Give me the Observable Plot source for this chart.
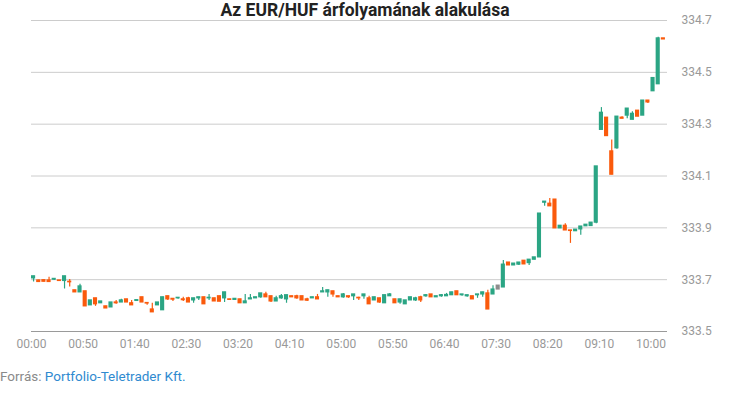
<!DOCTYPE html>
<html><head><meta charset="utf-8">
<script src="https://cdn.jsdelivr.net/npm/d3@7"></script>
<script src="https://cdn.jsdelivr.net/npm/@observablehq/plot@0.6"></script>
<style>
body{margin:0;background:#fff;font-family:Roboto,sans-serif;}
#wrap{position:relative;width:730px;height:410px;overflow:hidden;}
#chart{position:absolute;left:0;top:0;}
#title{position:absolute;top:0;left:0;width:730px;text-align:center;font-weight:bold;font-size:17.5px;line-height:20px;color:#222;}
#caption{position:absolute;left:0;top:368px;font-size:13.5px;line-height:17px;color:#8a8a8a;}
#caption .src{color:#2f8ad0;}
</style></head><body>
<div id="wrap"><div id="chart"></div><div id="title">Az EUR/HUF árfolyamának alakulása</div><div id="caption">Forrás: <span class="src">Portfolio-Teletrader Kft.</span></div></div>
<script>
// 5-minute candles, EUR/HUF
const times = [
"00:00","00:05","00:10","00:15","00:20","00:25","00:30","00:35","00:40","00:45","00:50","00:55",
"01:00","01:05","01:10","01:15","01:20","01:25","01:30","01:35","01:40","01:45","01:50","01:55",
"02:00","02:05","02:10","02:15","02:20","02:25","02:30","02:35","02:40","02:45","02:50","02:55",
"03:00","03:05","03:10","03:15","03:20","03:25","03:30","03:35","03:40","03:45","03:50","03:55",
"04:00","04:05","04:10","04:15","04:20","04:25","04:30","04:35","04:40","04:45","04:50","04:55",
"05:00","05:05","05:10","05:15","05:20","05:25","05:30","05:35","05:40","05:45","05:50","05:55",
"06:00","06:05","06:10","06:15","06:20","06:25","06:30","06:35","06:40","06:45","06:50","06:55",
"07:00","07:05","07:10","07:15","07:20","07:25","07:30","07:35","07:40","07:45","07:50","07:55",
"08:00","08:05","08:10","08:15","08:20","08:25","08:30","08:35","08:40","08:45","08:50","08:55",
"09:00","09:05","09:10","09:15","09:20","09:25","09:30","09:35","09:40","09:45","09:50","09:55",
"10:00","10:05","10:10"];
const open = [
333.705,333.697,333.698,333.697,333.700,333.697,333.695,333.692,333.659,333.651,333.655,333.601,
333.628,333.609,333.597,333.593,333.612,333.612,333.624,333.609,333.618,333.632,333.610,333.585,
333.601,333.582,333.636,333.626,333.628,333.624,333.628,333.620,333.628,333.632,333.628,333.628,
333.636,333.628,333.624,333.622,333.624,333.609,333.624,333.628,333.632,333.643,333.636,333.616,
333.628,333.624,333.636,333.636,333.636,333.624,333.628,333.632,333.651,333.651,333.655,333.636,
333.632,333.636,333.636,333.630,333.636,333.628,333.620,333.628,333.609,333.636,333.624,333.612,
333.605,333.620,333.620,333.632,333.636,333.643,333.632,333.636,333.636,333.640,333.655,333.640,
333.636,333.636,333.640,333.643,333.647,333.643,333.677,333.670,333.766,333.755,333.758,333.773,
333.764,333.777,333.786,333.997,333.993,334.009,333.898,333.908,333.890,333.887,333.894,333.906,
333.907,333.920,334.278,334.325,334.195,334.207,334.325,334.333,334.317,334.352,334.333,334.391,
334.427,334.454,334.631];
const high = [
333.713,333.698,333.700,333.709,333.703,333.697,333.713,333.701,333.659,333.682,333.655,333.620,
333.628,333.616,333.597,333.612,333.620,333.624,333.624,333.620,333.621,333.632,333.612,333.609,
333.612,333.632,333.636,333.626,333.630,333.632,333.632,333.628,333.632,333.632,333.643,333.628,
333.636,333.651,333.624,333.626,333.624,333.643,333.643,333.632,333.647,333.651,333.636,333.636,
333.643,333.640,333.636,333.640,333.636,333.628,333.632,333.643,333.670,333.659,333.655,333.636,
333.647,333.636,333.643,333.632,333.643,333.636,333.632,333.628,333.640,333.647,333.624,333.624,
333.620,333.632,333.632,333.636,333.643,333.643,333.636,333.643,333.647,333.651,333.655,333.643,
333.640,333.636,333.643,333.651,333.659,333.677,333.677,333.774,333.766,333.762,333.766,333.773,
333.777,333.786,333.955,334.001,334.013,334.009,333.908,333.916,333.890,333.893,333.905,333.912,
333.920,334.137,334.364,334.325,334.239,334.329,334.329,334.360,334.348,334.352,334.391,334.391,
334.478,334.635,334.631];
const low = [
333.691,333.690,333.691,333.691,333.697,333.695,333.664,333.672,333.651,333.651,333.597,333.601,
333.597,333.609,333.589,333.593,333.605,333.612,333.612,333.601,333.618,333.612,333.601,333.574,
333.601,333.582,333.620,333.616,333.624,333.616,333.612,333.609,333.620,333.605,333.620,333.616,
333.615,333.612,333.622,333.622,333.609,333.609,333.624,333.628,333.628,333.632,333.612,333.616,
333.624,333.609,333.632,333.624,333.620,333.616,333.628,333.624,333.651,333.632,333.632,333.632,
333.628,333.628,333.620,333.620,333.624,333.605,333.620,333.609,333.609,333.636,333.609,333.605,
333.605,333.620,333.616,333.612,333.632,333.632,333.632,333.632,333.636,333.640,333.640,333.636,
333.632,333.624,333.628,333.632,333.585,333.643,333.662,333.670,333.755,333.755,333.755,333.759,
333.755,333.777,333.786,333.983,333.983,333.898,333.898,333.890,333.840,333.887,333.871,333.906,
333.907,333.916,334.278,334.254,334.105,334.203,334.321,334.321,334.317,334.329,334.333,334.380,
334.427,334.454,334.627];
const close = [
333.713,333.691,333.692,333.691,333.703,333.695,333.713,333.690,333.651,333.674,333.597,333.620,
333.605,333.616,333.589,333.612,333.609,333.620,333.612,333.601,333.621,333.612,333.608,333.574,
333.612,333.632,333.624,333.623,333.630,333.621,333.612,333.628,333.632,333.605,333.630,333.616,
333.615,333.651,333.622,333.626,333.609,333.616,333.628,333.632,333.647,333.632,333.616,333.628,
333.636,333.640,333.632,333.628,333.620,333.619,333.632,333.624,333.655,333.659,333.643,333.632,
333.643,333.632,333.643,333.628,333.643,333.605,333.632,333.612,333.640,333.643,333.609,333.624,
333.620,333.632,333.628,333.620,333.640,333.632,333.636,333.640,333.641,333.651,333.640,333.643,
333.640,333.624,333.643,333.651,333.585,333.662,333.662,333.758,333.755,333.762,333.766,333.759,
333.777,333.786,333.955,334.001,333.983,333.898,333.908,333.890,333.888,333.893,333.905,333.912,
333.920,334.137,334.344,334.254,334.105,334.329,334.321,334.360,334.340,334.329,334.391,334.384,
334.478,334.631,334.627];
const xTickLabels = ["00:00","00:50","01:40","02:30","03:20","04:10","05:00","05:50","06:40","07:30","08:20","09:10","10:00"];
const yTicks = [333.5,333.7,333.9,334.1,334.3,334.5,334.7];

const toMin = s => { const [h, m] = s.split(":").map(Number); return h * 60 + m; };
const fmt = m => String(Math.floor(m / 60)).padStart(2, "0") + ":" + String(m % 60).padStart(2, "0");

const data = times.map((t, i) => ({
  t: toMin(t), open: open[i], high: high[i], low: low[i], close: close[i],
  dir: (i > 0 && close[i] === close[i - 1]) ? "flat" : close[i] > open[i] ? "up" : close[i] < open[i] ? "down" : "flat"
}));

const chart = Plot.plot({
  width: 730, height: 356,
  marginTop: 20, marginBottom: 25, marginLeft: 31, marginRight: 63,
  style: {fontFamily: "Roboto, sans-serif", fontSize: "12px", background: "#fff"},
  x: {type: "linear", domain: [0, 616]},
  y: {domain: [333.5, 334.7]},
  color: {domain: ["up", "down", "flat"], range: ["#2ba584", "#fa5a0c", "#8c8c8c"]},
  marks: [
    Plot.gridY(yTicks, {stroke: "#cccccc", strokeOpacity: 1}),
    Plot.ruleY([333.5], {stroke: "#9a9a9a"}),
    Plot.ruleX(data, {x: d => d.t + 2, y1: "low", y2: "high", stroke: "dir", strokeWidth: 1.2}),
    Plot.rectY(data, {x1: "t", x2: d => d.t + 4, y1: d => Math.min(d.open, d.close), y2: d => Math.max(d.open, d.close), fill: "dir", insetTop: -0.6, insetBottom: -0.6}),
    Plot.axisY(yTicks, {anchor: "right", tickSize: 0, tickPadding: 14, tickFormat: d3.format(".1f"), color: "#999", label: null}),
    Plot.axisX(xTickLabels.map(toMin), {tickSize: 0, tickPadding: 8, tickFormat: fmt, color: "#999", label: null})
  ]
});
document.getElementById("chart").appendChild(chart);
</script>
</body></html>
